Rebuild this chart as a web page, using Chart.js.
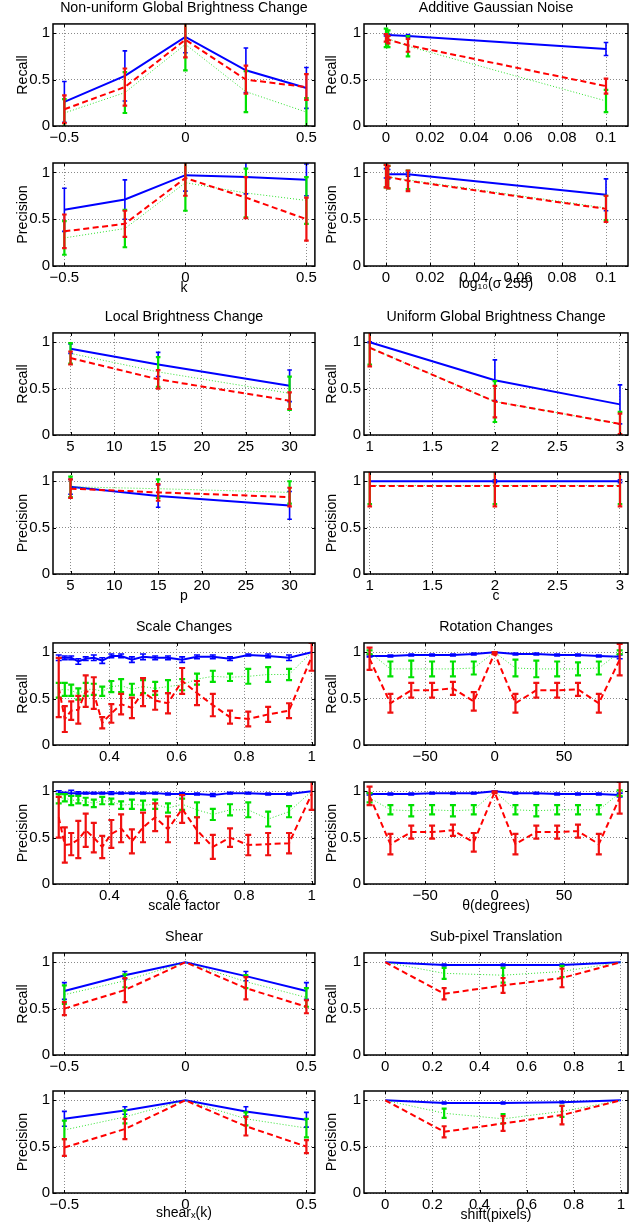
<!DOCTYPE html>
<html><head><meta charset="utf-8">
<script src="https://cdn.jsdelivr.net/npm/chart.js@4/dist/chart.umd.min.js"></script>
<style>
html,body{margin:0;padding:0;background:#fff;}
body{width:638px;height:1226px;position:relative;overflow:hidden;font-family:'Liberation Sans',Arial,sans-serif;}
canvas{position:absolute;}
</style>
</head><body>
<script>
// ---------- shared ticks ----------
const yTicks = [0, 0.5, 1];
const yTickLabels = ['0', '0.5', '1'];

// ---------- Non-uniform Global Brightness Change ----------
const nuX = [-0.5, -0.25, 0, 0.25, 0.5];
const nuTicks = [-0.5, 0, 0.5];
const nuTickLabels = ['\u22120.5', '0', '0.5'];
const nuRecBlue = [0.26, 0.54, 0.96, 0.60, 0.41];
const nuRecBlueErr = [0.22, 0.27, 0.17, 0.24, 0.22];
const nuRecGreen = [0.14, 0.36, 0.88, 0.37, 0.15];
const nuRecGreenErr = [0.15, 0.22, 0.28, 0.22, 0.15];
const nuRecRed = [0.18, 0.42, 0.93, 0.50, 0.42];
const nuRecRedErr = [0.15, 0.20, 0.19, 0.15, 0.14];
const nuPreBlue = [0.60, 0.71, 0.97, 0.95, 0.92];
const nuPreBlueErr = [0.23, 0.21, 0.17, 0.18, 0.17];
const nuPreGreen = [0.30, 0.40, 0.89, 0.78, 0.70];
const nuPreGreenErr = [0.18, 0.20, 0.30, 0.26, 0.25];
const nuPreRed = [0.37, 0.45, 0.94, 0.73, 0.50];
const nuPreRedErr = [0.18, 0.14, 0.19, 0.22, 0.23];

// ---------- Additive Gaussian Noise ----------
const agX = [0, 0.001, 0.01, 0.1];
const agTicks = [0, 0.02, 0.04, 0.06, 0.08, 0.1];
const agTickLabels = ['0', '0.02', '0.04', '0.06', '0.08', '0.1'];
const agRecBlue = [0.98, 0.98, 0.97, 0.83];
const agRecBlueErr = [0.01, 0.01, 0.015, 0.07];
const agRecGreen = [0.95, 0.94, 0.86, 0.27];
const agRecGreenErr = [0.10, 0.09, 0.11, 0.12];
const agRecRed = [0.95, 0.93, 0.87, 0.43];
const agRecRedErr = [0.04, 0.04, 0.07, 0.08];
const agPreBlue = [0.99, 0.98, 0.98, 0.76];
const agPreBlueErr = [0.05, 0.05, 0.02, 0.17];
const agPreGreen = [0.96, 0.95, 0.92, 0.62];
const agPreGreenErr = [0.12, 0.12, 0.10, 0.13];
const agPreRed = [0.96, 0.95, 0.91, 0.61];
const agPreRedErr = [0.12, 0.12, 0.11, 0.14];

// ---------- Local Brightness Change ----------
const lbX = [5, 15, 30];
const lbTicks = [5, 10, 15, 20, 25, 30];
const lbTickLabels = ['5', '10', '15', '20', '25', '30'];
const lbRecBlue = [0.93, 0.76, 0.53];
const lbRecBlueErr = [0.05, 0.13, 0.17];
const lbRecGreen = [0.88, 0.68, 0.45];
const lbRecGreenErr = [0.11, 0.16, 0.18];
const lbRecRed = [0.83, 0.60, 0.37];
const lbRecRedErr = [0.07, 0.10, 0.09];
const lbPreBlue = [0.94, 0.84, 0.74];
const lbPreBlueErr = [0.08, 0.12, 0.15];
const lbPreGreen = [0.94, 0.92, 0.88];
const lbPreGreenErr = [0.11, 0.10, 0.12];
const lbPreRed = [0.92, 0.88, 0.83];
const lbPreRedErr = [0.10, 0.09, 0.10];

// ---------- Uniform Global Brightness Change ----------
const ugX = [1, 2, 3];
const ugTicks = [1, 1.5, 2, 2.5, 3];
const ugTickLabels = ['1', '1.5', '2', '2.5', '3'];
const ugRecBlue = [1.0, 0.59, 0.33];
const ugRecBlueErr = [0.005, 0.22, 0.21];
const ugRecGreen = [0.94, 0.36, 0.12];
const ugRecGreenErr = [0.18, 0.22, 0.13];
const ugRecRed = [0.94, 0.36, 0.12];
const ugRecRedErr = [0.20, 0.17, 0.11];
const ugPreBlue = [1.0, 1.0, 1.0];
const ugPreBlueErr = [0, 0.015, 0.015];
const ugPreGreen = [0.955, 0.955, 0.955];
const ugPreGreenErr = [0.20, 0.20, 0.20];
const ugPreRed = [0.95, 0.95, 0.95];
const ugPreRedErr = [0.22, 0.22, 0.22];

// ---------- Scale Changes ----------
const scX = [0.25, 0.268, 0.287, 0.308, 0.330, 0.354, 0.379, 0.406, 0.435, 0.467, 0.5, 0.536, 0.574, 0.616, 0.660, 0.707, 0.758, 0.812, 0.871, 0.933, 1];
const scTicks = [0.4, 0.6, 0.8, 1];
const scTickLabels = ['0.4', '0.6', '0.8', '1'];
const scRecBlue = [0.94, 0.94, 0.94, 0.90, 0.93, 0.94, 0.91, 0.96, 0.96, 0.92, 0.95, 0.94, 0.94, 0.92, 0.95, 0.95, 0.93, 0.97, 0.96, 0.94, 1.0];
const scRecBlueErr = [0.03, 0.02, 0.02, 0.03, 0.02, 0.03, 0.03, 0.02, 0.02, 0.03, 0.03, 0.02, 0.02, 0.03, 0.02, 0.02, 0.02, 0.01, 0.02, 0.03, 0];
const scRecGreen = [0.59, 0.60, 0.59, 0.55, 0.60, 0.60, 0.58, 0.63, 0.64, 0.60, 0.63, 0.61, 0.63, 0.65, 0.71, 0.74, 0.73, 0.74, 0.76, 0.76, 1.0];
const scRecGreenErr = [0.08, 0.07, 0.06, 0.06, 0.07, 0.06, 0.05, 0.06, 0.07, 0.06, 0.07, 0.07, 0.07, 0.06, 0.06, 0.06, 0.04, 0.08, 0.08, 0.06, 0];
const scRecRed = [0.62, 0.28, 0.37, 0.38, 0.58, 0.56, 0.24, 0.34, 0.44, 0.40, 0.57, 0.48, 0.45, 0.69, 0.56, 0.43, 0.30, 0.28, 0.33, 0.37, 0.95];
const scRecRedErr = [0.32, 0.14, 0.10, 0.15, 0.17, 0.17, 0.06, 0.10, 0.11, 0.11, 0.15, 0.10, 0.11, 0.14, 0.13, 0.12, 0.07, 0.08, 0.08, 0.08, 0.15];
const scPreBlue = [0.99, 0.98, 0.98, 0.98, 0.98, 0.98, 0.98, 0.98, 0.98, 0.98, 0.98, 0.98, 0.97, 0.97, 0.97, 0.96, 0.98, 0.98, 0.97, 0.97, 1.0];
const scPreBlueErr = [0.015, 0.01, 0.03, 0.015, 0.01, 0.01, 0.01, 0.015, 0.01, 0.01, 0.01, 0.01, 0.01, 0.015, 0.01, 0.015, 0.01, 0.01, 0.01, 0.01, 0];
const scPreGreen = [0.92, 0.93, 0.90, 0.91, 0.89, 0.87, 0.90, 0.89, 0.85, 0.86, 0.85, 0.86, 0.82, 0.86, 0.80, 0.75, 0.80, 0.80, 0.70, 0.78, 1.0];
const scPreGreenErr = [0.05, 0.04, 0.05, 0.04, 0.04, 0.04, 0.04, 0.03, 0.04, 0.05, 0.05, 0.05, 0.05, 0.06, 0.08, 0.06, 0.06, 0.08, 0.08, 0.06, 0];
const scPreRed = [0.72, 0.42, 0.43, 0.48, 0.58, 0.50, 0.40, 0.54, 0.60, 0.46, 0.61, 0.72, 0.59, 0.81, 0.58, 0.40, 0.50, 0.42, 0.43, 0.44, 0.97];
const scPreRedErr = [0.22, 0.19, 0.12, 0.20, 0.18, 0.16, 0.12, 0.15, 0.15, 0.13, 0.16, 0.15, 0.14, 0.15, 0.14, 0.13, 0.10, 0.11, 0.12, 0.11, 0.17];

// ---------- Rotation Changes ----------
const rcX = [-90, -75, -60, -45, -30, -15, 0, 15, 30, 45, 60, 75, 90];
const rcTicks = [-50, 0, 50];
const rcTickLabels = ['\u221250', '0', '50'];
const rcRecBlue = [0.96, 0.96, 0.97, 0.97, 0.97, 0.98, 1.0, 0.98, 0.98, 0.97, 0.97, 0.96, 0.95];
const rcRecBlueErr = [0.01, 0.01, 0.01, 0.01, 0.01, 0.01, 0.005, 0.01, 0.01, 0.01, 0.01, 0.01, 0.02];
const rcRecGreen = [1.0, 0.82, 0.82, 0.82, 0.82, 0.83, 1.0, 0.83, 0.82, 0.82, 0.82, 0.83, 1.0];
const rcRecGreenErr = [0.02, 0.08, 0.09, 0.08, 0.08, 0.07, 0, 0.09, 0.09, 0.08, 0.07, 0.07, 0.02];
const rcRecRed = [0.93, 0.45, 0.59, 0.59, 0.61, 0.47, 0.99, 0.45, 0.59, 0.59, 0.60, 0.45, 0.92];
const rcRecRedErr = [0.12, 0.10, 0.08, 0.08, 0.07, 0.10, 0.01, 0.10, 0.08, 0.08, 0.07, 0.10, 0.17];
const rcPreBlue = [0.97, 0.97, 0.97, 0.98, 0.98, 0.98, 1.0, 0.98, 0.98, 0.97, 0.97, 0.97, 0.96];
const rcPreBlueErr = [0.01, 0.01, 0.01, 0.01, 0.01, 0.01, 0.005, 0.01, 0.01, 0.01, 0.01, 0.01, 0.02];
const rcPreGreen = [0.93, 0.80, 0.79, 0.80, 0.79, 0.80, 1.0, 0.80, 0.79, 0.80, 0.80, 0.80, 0.98];
const rcPreGreenErr = [0.05, 0.05, 0.06, 0.05, 0.06, 0.05, 0, 0.05, 0.06, 0.05, 0.05, 0.05, 0.03];
const rcPreRed = [0.95, 0.43, 0.56, 0.56, 0.58, 0.45, 0.99, 0.43, 0.56, 0.56, 0.57, 0.43, 0.93];
const rcPreRedErr = [0.10, 0.11, 0.07, 0.07, 0.06, 0.10, 0.01, 0.11, 0.07, 0.07, 0.07, 0.11, 0.17];

// ---------- Shear ----------
const shX = [-0.5, -0.25, 0, 0.25, 0.5];
const shTicks = [-0.5, 0, 0.5];
const shTickLabels = ['\u22120.5', '0', '0.5'];
const shRecBlue = [0.69, 0.86, 1.0, 0.85, 0.69];
const shRecBlueErr = [0.09, 0.04, 0, 0.05, 0.09];
const shRecGreen = [0.65, 0.80, 1.0, 0.79, 0.62];
const shRecGreenErr = [0.10, 0.07, 0, 0.07, 0.10];
const shRecRed = [0.50, 0.70, 1.0, 0.72, 0.52];
const shRecRedErr = [0.07, 0.13, 0, 0.12, 0.07];
const shPreBlue = [0.80, 0.89, 1.0, 0.88, 0.79];
const shPreBlueErr = [0.08, 0.04, 0, 0.05, 0.08];
const shPreGreen = [0.68, 0.82, 1.0, 0.80, 0.70];
const shPreGreenErr = [0.10, 0.07, 0, 0.07, 0.10];
const shPreRed = [0.49, 0.69, 1.0, 0.72, 0.50];
const shPreRedErr = [0.09, 0.11, 0, 0.10, 0.07];

// ---------- Sub-pixel Translation ----------
const spX = [0, 0.25, 0.5, 0.75, 1];
const spTicks = [0, 0.2, 0.4, 0.6, 0.8, 1];
const spTickLabels = ['0', '0.2', '0.4', '0.6', '0.8', '1'];
const spRecBlue = [1.0, 0.97, 0.97, 0.97, 1.0];
const spRecBlueErr = [0, 0.01, 0.01, 0.01, 0];
const spRecGreen = [1.0, 0.88, 0.86, 0.90, 1.0];
const spRecGreenErr = [0, 0.06, 0.08, 0.06, 0];
const spRecRed = [1.0, 0.66, 0.75, 0.83, 1.0];
const spRecRedErr = [0, 0.06, 0.08, 0.10, 0];
const spPreBlue = [1.0, 0.97, 0.97, 0.98, 1.0];
const spPreBlueErr = [0, 0.01, 0.01, 0.01, 0];
const spPreGreen = [1.0, 0.86, 0.80, 0.88, 1.0];
const spPreGreenErr = [0, 0.05, 0.05, 0.06, 0];
const spPreRed = [1.0, 0.66, 0.75, 0.84, 1.0];
const spPreRedErr = [0, 0.06, 0.08, 0.10, 0];

// ---------- styling / layout ----------
const FONT = "'Liberation Sans', Arial, Helvetica, sans-serif";
const STY = {
  blue:  {borderColor: '#0000ff', borderWidth: 2, borderDash: [], barColor: '#0000ff', barWidth: 1.6, order: 2},
  green: {borderColor: '#2fe02f', borderWidth: 1, borderDash: [1, 2], barColor: '#00e000', barWidth: 2.2, order: 1},
  red:   {borderColor: '#ff0000', borderWidth: 2, borderDash: [6, 3.5], barColor: '#f01010', barWidth: 2.2, order: 0}
};
const COLS = {L: {col: 0, boxL: 53, boxR: 315, yTitlePad: 14.5}, R: {col: 318, boxL: 364, boxR: 628, yTitlePad: 5.5}};
const ROWS = [
  {rT: 24, rB: 126, pT: 163, pB: 266},
  {rT: 333, rB: 435, pT: 472, pB: 574},
  {rT: 643, rB: 745, pT: 782, pB: 884},
  {rT: 953, rB: 1055, pT: 1091, pB: 1193}
];

const boxPlugin = {
  id: 'matlabBox',
  afterDatasetDraw(chart, args) {
    const ds = chart.data.datasets[args.index];
    if (!ds.err) return;
    const {ctx, chartArea: a} = chart;
    const xs = chart.scales.x, ys = chart.scales.y;
    const cap = chart.options.plugins.matlabBox.cap;
    ctx.save();
    ctx.beginPath();
    ctx.rect(a.left, a.top, a.right - a.left, a.bottom - a.top);
    ctx.clip();
    ctx.strokeStyle = ds.barColor;
    ctx.lineWidth = ds.barWidth;
    ctx.setLineDash([]);
    ds.data.forEach((p, i) => {
      const e = ds.err[i];
      if (!e) return;
      const px = xs.getPixelForValue(p.x);
      const y1 = ys.getPixelForValue(p.y - e);
      const y2 = ys.getPixelForValue(p.y + e);
      ctx.beginPath();
      ctx.moveTo(px, y1); ctx.lineTo(px, y2);
      ctx.moveTo(px - cap, y1); ctx.lineTo(px + cap, y1);
      ctx.moveTo(px - cap, y2); ctx.lineTo(px + cap, y2);
      ctx.stroke();
    });
    ctx.restore();
  },
  afterDraw(chart) {
    const {ctx, chartArea: a} = chart;
    const xs = chart.scales.x, ys = chart.scales.y;
    ctx.save();
    ctx.strokeStyle = '#000';
    ctx.lineWidth = 1;
    ctx.setLineDash([]);
    ctx.beginPath();
    xs.ticks.forEach(t => {
      const px = Math.round(xs.getPixelForValue(t.value)) + 0.5;
      ctx.moveTo(px, a.bottom); ctx.lineTo(px, a.bottom - 3);
      ctx.moveTo(px, a.top); ctx.lineTo(px, a.top + 3);
    });
    ys.ticks.forEach(t => {
      const py = Math.round(ys.getPixelForValue(t.value)) + 0.5;
      ctx.moveTo(a.left, py); ctx.lineTo(a.left + 3, py);
      ctx.moveTo(a.right, py); ctx.lineTo(a.right - 3, py);
    });
    ctx.stroke();
    ctx.lineWidth = 1.5;
    ctx.strokeRect(a.left, a.top, a.right - a.left, a.bottom - a.top);
    ctx.restore();
  }
};

function ds(x, y, err, sty) {
  return Object.assign({
    data: x.map((v, i) => ({x: v, y: y[i]})),
    err: err,
    pointRadius: 0,
    tension: 0,
    fill: false
  }, STY[sty]);
}

function addChart(o) {
  const c = COLS[o.col];
  const isRec = o.kind === 'recall';
  const topPad = isRec ? 24 : 18;
  const botH = isRec ? 20 : 34;
  const W = 320;
  const H = topPad + (o.boxB - o.boxT) + botH;
  const cv = document.createElement('canvas');
  cv.width = W; cv.height = H;
  cv.style.width = W + 'px'; cv.style.height = H + 'px';
  cv.style.left = c.col + 'px';
  cv.style.top = (o.boxT - topPad) + 'px';
  document.body.appendChild(cv);
  new Chart(cv, {
    type: 'line',
    data: {datasets: [
      ds(o.x, o.red, o.redErr, 'red'),
      ds(o.x, o.green, o.greenErr, 'green'),
      ds(o.x, o.blue, o.blueErr, 'blue')
    ]},
    options: {
      responsive: false,
      animation: false,
      devicePixelRatio: 1,
      events: [],
      layout: {padding: {left: 0, right: W - (c.boxR - c.col), top: isRec ? 0 : topPad, bottom: 0}},
      plugins: {
        legend: {display: false},
        tooltip: {enabled: false},
        matlabBox: {cap: o.cap},
        title: isRec ? {
          display: true, text: o.title, color: '#000', fullSize: false,
          font: {family: FONT, size: 14.2, weight: 'normal'},
          padding: {top: 0, bottom: 6.9}
        } : {display: false}
      },
      scales: {
        x: {
          type: 'linear', min: o.xMin, max: o.xMax,
          afterBuildTicks: s => { s.ticks = o.xTicks.map(v => ({value: v})); },
          afterFit: s => { s.height = botH; },
          ticks: {autoSkip: false, maxRotation: 0, minRotation: 0, padding: 3, color: '#000',
                  font: {family: FONT, size: 15}, callback: (v, i) => o.xTickLabels[i]},
          grid: {color: '#8a8a8a', lineWidth: 1, drawTicks: false},
          border: {display: false, dash: [1, 2]},
          title: isRec ? {display: false} : {
            display: true, text: o.xLabel, color: '#000',
            font: {family: FONT, size: 14}, padding: {top: 0, bottom: o.xLabelPad}
          }
        },
        y: {
          type: 'linear', min: 0, max: 1.1,
          afterBuildTicks: s => { s.ticks = yTicks.map(v => ({value: v})); },
          afterFit: s => { s.width = c.boxL - c.col; },
          ticks: {autoSkip: false, padding: 3, color: '#000',
                  font: {family: FONT, size: 15}, callback: (v, i) => yTickLabels[i]},
          grid: {color: '#8a8a8a', lineWidth: 1, drawTicks: false},
          border: {display: false, dash: [1, 2]},
          title: {display: true, text: isRec ? 'Recall' : 'Precision', color: '#000',
                  font: {family: FONT, size: 14.2}, padding: {top: c.yTitlePad, bottom: 0}}
        }
      }
    },
    plugins: [boxPlugin]
  });
}

function addPanel(p) {
  const r = ROWS[p.row];
  addChart({kind: 'recall', col: p.col, boxT: r.rT, boxB: r.rB, title: p.title, cap: p.cap,
    xMin: p.xMin, xMax: p.xMax, xTicks: p.xTicks, xTickLabels: p.xTickLabels, x: p.x,
    blue: p.rec[0], blueErr: p.rec[1], green: p.rec[2], greenErr: p.rec[3], red: p.rec[4], redErr: p.rec[5]});
  addChart({kind: 'precision', col: p.col, boxT: r.pT, boxB: r.pB, xLabel: p.xLabel, xLabelPad: p.xLabelPad, cap: p.cap,
    xMin: p.xMin, xMax: p.xMax, xTicks: p.xTicks, xTickLabels: p.xTickLabels, x: p.x,
    blue: p.pre[0], blueErr: p.pre[1], green: p.pre[2], greenErr: p.pre[3], red: p.pre[4], redErr: p.pre[5]});
}

addPanel({row: 0, col: 'L', title: 'Non-uniform Global Brightness Change', xLabel: 'k', xLabelPad: 3.6, cap: 2.3,
  xMin: -0.547, xMax: 0.535, xTicks: nuTicks, xTickLabels: nuTickLabels, x: nuX,
  rec: [nuRecBlue, nuRecBlueErr, nuRecGreen, nuRecGreenErr, nuRecRed, nuRecRedErr],
  pre: [nuPreBlue, nuPreBlueErr, nuPreGreen, nuPreGreenErr, nuPreRed, nuPreRedErr]});
addPanel({row: 0, col: 'R', title: 'Additive Gaussian Noise', xLabel: 'log\u2081\u2080(\u03c3 255)', xLabelPad: 7.6, cap: 2.3,
  xMin: -0.01, xMax: 0.11, xTicks: agTicks, xTickLabels: agTickLabels, x: agX,
  rec: [agRecBlue, agRecBlueErr, agRecGreen, agRecGreenErr, agRecRed, agRecRedErr],
  pre: [agPreBlue, agPreBlueErr, agPreGreen, agPreGreenErr, agPreRed, agPreRedErr]});
addPanel({row: 1, col: 'L', title: 'Local Brightness Change', xLabel: 'p', xLabelPad: 3.6, cap: 2.3,
  xMin: 3, xMax: 32.9, xTicks: lbTicks, xTickLabels: lbTickLabels, x: lbX,
  rec: [lbRecBlue, lbRecBlueErr, lbRecGreen, lbRecGreenErr, lbRecRed, lbRecRedErr],
  pre: [lbPreBlue, lbPreBlueErr, lbPreGreen, lbPreGreenErr, lbPreRed, lbPreRedErr]});
addPanel({row: 1, col: 'R', title: 'Uniform Global Brightness Change', xLabel: 'c', xLabelPad: 3.6, cap: 2.3,
  xMin: 0.954, xMax: 3.064, xTicks: ugTicks, xTickLabels: ugTickLabels, x: ugX,
  rec: [ugRecBlue, ugRecBlueErr, ugRecGreen, ugRecGreenErr, ugRecRed, ugRecRedErr],
  pre: [ugPreBlue, ugPreBlueErr, ugPreGreen, ugPreGreenErr, ugPreRed, ugPreRedErr]});
addPanel({row: 2, col: 'L', title: 'Scale Changes', xLabel: 'scale factor', xLabelPad: 3.6, cap: 3,
  xMin: 0.233, xMax: 1.01, xTicks: scTicks, xTickLabels: scTickLabels, x: scX,
  rec: [scRecBlue, scRecBlueErr, scRecGreen, scRecGreenErr, scRecRed, scRecRedErr],
  pre: [scPreBlue, scPreBlueErr, scPreGreen, scPreGreenErr, scPreRed, scPreRedErr]});
addPanel({row: 2, col: 'R', title: 'Rotation Changes', xLabel: '\u03b8(degrees)', xLabelPad: 3.6, cap: 3,
  xMin: -94, xMax: 96, xTicks: rcTicks, xTickLabels: rcTickLabels, x: rcX,
  rec: [rcRecBlue, rcRecBlueErr, rcRecGreen, rcRecGreenErr, rcRecRed, rcRecRedErr],
  pre: [rcPreBlue, rcPreBlueErr, rcPreGreen, rcPreGreenErr, rcPreRed, rcPreRedErr]});
addPanel({row: 3, col: 'L', title: 'Shear', xLabel: 'shear\u2093(k)', xLabelPad: 5, cap: 2.5,
  xMin: -0.547, xMax: 0.535, xTicks: shTicks, xTickLabels: shTickLabels, x: shX,
  rec: [shRecBlue, shRecBlueErr, shRecGreen, shRecGreenErr, shRecRed, shRecRedErr],
  pre: [shPreBlue, shPreBlueErr, shPreGreen, shPreGreenErr, shPreRed, shPreRedErr]});
addPanel({row: 3, col: 'R', title: 'Sub-pixel Translation', xLabel: 'shift(pixels)', xLabelPad: 3.6, cap: 2.5,
  xMin: -0.09, xMax: 1.03, xTicks: spTicks, xTickLabels: spTickLabels, x: spX,
  rec: [spRecBlue, spRecBlueErr, spRecGreen, spRecGreenErr, spRecRed, spRecRedErr],
  pre: [spPreBlue, spPreBlueErr, spPreGreen, spPreGreenErr, spPreRed, spPreRedErr]});
</script>
</body></html>
